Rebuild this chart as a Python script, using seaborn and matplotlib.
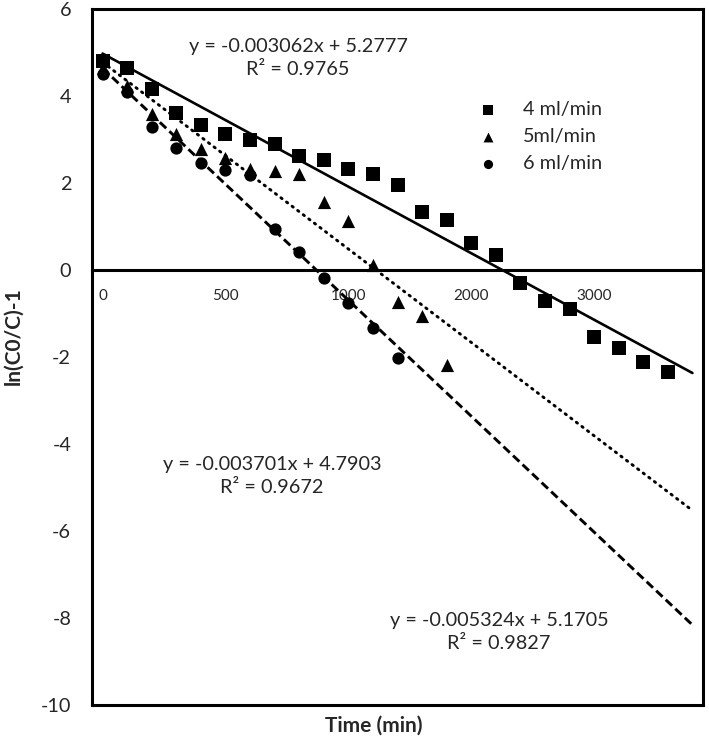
import numpy as np
import pandas as pd
import matplotlib
matplotlib.use("Agg")
import matplotlib.pyplot as plt
import seaborn as sns

# ---------------- data ----------------
time_4 = [100, 200, 300, 400, 500, 600, 700, 800, 900, 1000, 1100, 1200,
          1300, 1400, 1500, 1600, 1700, 1800, 1900, 2000, 2100, 2200, 2300, 2400]
val_4 = [4.81, 4.64, 4.16, 3.62, 3.33, 3.12, 3.00, 2.90, 2.62, 2.52, 2.32, 2.21,
         1.96, 1.34, 1.15, 0.62, 0.35, -0.29, -0.71, -0.90, -1.55, -1.79, -2.11, -2.35]

time_5 = [100, 200, 300, 400, 500, 600, 700, 800, 900, 1000, 1100, 1200,
          1300, 1400, 1500]
val_5 = [4.65, 4.22, 3.58, 3.13, 2.78, 2.57, 2.32, 2.27, 2.20, 1.57, 1.13, 0.12,
         -0.73, -1.06, -2.19]

time_6 = [100, 200, 300, 400, 500, 600, 700, 800, 900, 1000, 1100, 1200, 1300]
val_6 = [4.51, 4.10, 3.29, 2.80, 2.47, 2.30, 2.19, 0.95, 0.41, -0.18, -0.76, -1.34, -2.03]

series_labels = ["4 ml/min", "5ml/min", "6 ml/min"]
trend_end = 2500  # trendlines forecast to last category

eq_texts = ["y = -0.003062x + 5.2777\nR\u00b2 = 0.9765",
            "y = -0.003701x + 4.7903\nR\u00b2 = 0.9672",
            "y = -0.005324x + 5.1705\nR\u00b2 = 0.9827"]

xtick_pos = [100, 600, 1100, 1600, 2100]
xtick_labels = ["0", "500", "1000", "2000", "3000"]
yticks = [-10, -8, -6, -4, -2, 0, 2, 4, 6]

# ---------------- style ----------------
sns.set_theme(style="white")
plt.rcParams["font.family"] = ["Lato", "DejaVu Sans"]
FS = 14.3

fig = plt.figure(figsize=(7.09, 7.40), dpi=100)
ax = fig.add_axes([92 / 709, 35 / 740, 611 / 709, 696 / 740])

markers = ["s", "^", "o"]
sizes = [96, 90, 78]
linestyles = ["-", (0, (0.5, 1.9)), (0, (3.0, 1.5))]
capstyles = ["butt", "round", "butt"]
linewidths = [1.9, 2.1, 2.1]

data = [(time_4, val_4), (time_5, val_5), (time_6, val_6)]
for (t, v), lab, m, s, ls, cs, lw in zip(data, series_labels, markers, sizes,
                                         linestyles, capstyles, linewidths):
    df = pd.DataFrame({"t": t, "v": v})
    k, b = np.polyfit(df["t"], df["v"], 1)
    fit = pd.DataFrame({"t": [t[0], trend_end]})
    fit["v"] = k * fit["t"] + b
    sns.lineplot(data=fit, x="t", y="v", ax=ax, color="black", lw=lw,
                 linestyle=ls, legend=False, zorder=2)
    ax.lines[-1].set_dash_capstyle(cs)
    sns.scatterplot(data=df, x="t", y="v", ax=ax, marker=m, s=s, color="black",
                    edgecolor="black", linewidth=0, label=lab, zorder=3)

ax.set_xlim(57, 2543)
ax.set_ylim(-10, 6)
ax.set_yticks(yticks)
ax.set_yticklabels([str(y) for y in yticks], fontsize=FS)
ax.set_xticks(xtick_pos)
ax.set_xticklabels(xtick_labels, fontsize=FS)
ax.tick_params(axis="both", length=0)
ax.tick_params(axis="y", pad=15)
ax.tick_params(axis="x", pad=14)

# spines: box plus horizontal axis at y = 0
for sp in ["left", "top", "right"]:
    ax.spines[sp].set_color("black")
    ax.spines[sp].set_linewidth(2.2)
ax.spines["bottom"].set_position(("data", 0))
ax.spines["bottom"].set_color("black")
ax.spines["bottom"].set_linewidth(2.2)
ax.plot([0, 1], [0, 0], transform=ax.transAxes, color="black", lw=2.2,
        clip_on=False, zorder=5, solid_capstyle="projecting")

ax.set_xlabel("Time (min)", fontsize=15, fontweight="bold")
ax.set_ylabel("ln(C0/C)-1", fontsize=15, fontweight="bold")
ax.xaxis.set_label_coords((374 - 92) / 611, -0.016)
ax.yaxis.set_label_coords(-0.112, (705 - 336) / 696)

# equation annotations
eq_pos = [(298, 58), (272, 476), (499, 632)]
for txt, (px, py) in zip(eq_texts, eq_pos):
    ax.text((px - 92) / 611, (705 - py) / 696, txt, transform=ax.transAxes,
            ha="center", va="center", fontsize=FS, linespacing=1.4)

leg = ax.legend(loc="upper left", bbox_to_anchor=((460 - 92) / 611, (705 - 93) / 696),
                frameon=False, fontsize=FS, handletextpad=0.75, labelspacing=0.5,
                markerscale=0.75, borderaxespad=0)

fig.savefig("out.png", dpi=100, facecolor="white")
